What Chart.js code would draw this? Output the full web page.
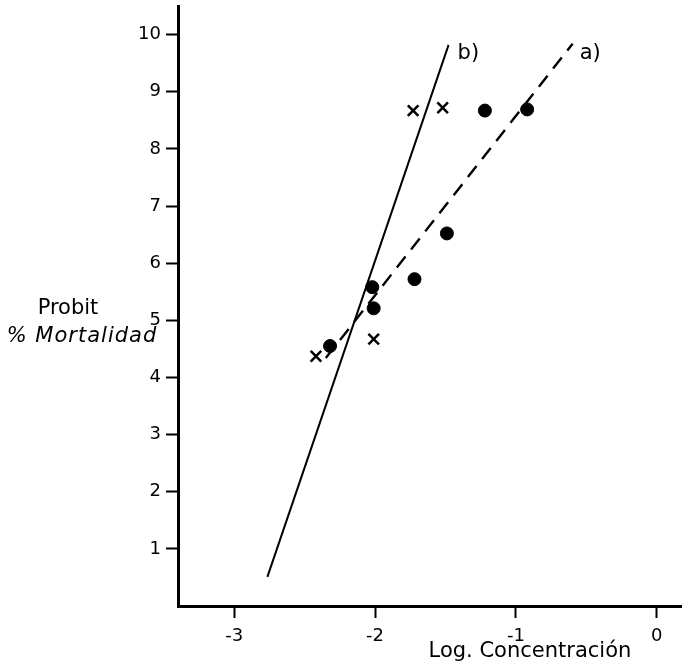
<!DOCTYPE html>
<html>
    <head>
        <meta charset="utf-8"/>
        <title>Probit vs Log. Concentración</title>
        <script src="https://cdn.jsdelivr.net/npm/chart.js@4.4.1/dist/chart.umd.min.js"></script>
        <style>
            body { margin: 0; background: #fff; }
            #wrap { width: 682px; height: 668px; }
        </style>
    </head>

    <body>
        <div id="wrap">
            <canvas id="chart"></canvas>
        </div>

        <script>
            // tick labels
            var xTicks = [-3, -2, -1, 0];
            var yTicks = [1, 2, 3, 4, 5, 6, 7, 8, 9, 10];

            // filled circles (series a)
            var circleX = [-2.32, -2.02, -2.01, -1.72, -1.49, -1.22, -0.92];
            var circleY = [4.55, 5.58, 5.21, 5.72, 6.52, 8.67, 8.69];

            // x marks (series b)
            var crossX = [-2.42, -2.01, -1.73, -1.52];
            var crossY = [4.37, 4.67, 8.67, 8.72];

            // fitted lines
            var lineAX = [-2.35, -0.597];
            var lineAY = [4.34, 9.84];
            var lineBX = [-2.765, -1.478];
            var lineBY = [0.51, 9.82];

            var toPoints = function(xs, ys) {
                var pts = [];
                for (var i = 0; i < xs.length; i++) pts.push({x: xs[i], y: ys[i]});
                return pts;
            }

            var font = '"DejaVu Sans", sans-serif';

            // axis titles and line labels, placed in data coords
            var textPlugin = {
                id: 'texts',
                afterDraw: function(chart) {
                    var c = chart.ctx;
                    var xs = chart.scales.x, ys = chart.scales.y;
                    c.save();
                    c.fillStyle = '#000';
                    c.textBaseline = 'middle';
                    c.textAlign = 'center';
                    c.font = '21px ' + font;
                    c.fillText('Probit', 68, 309);
                    c.font = 'italic 21px ' + font;
                    c.letterSpacing = '1px';
                    c.fillText('% Mortalidad', 82, 337);
                    c.letterSpacing = '0px';
                    c.font = '21px ' + font;
                    c.fillText('Log. Concentración', xs.getPixelForValue(-0.9), 652);
                    c.textAlign = 'left';
                    c.fillText('b)', xs.getPixelForValue(-1.414), ys.getPixelForValue(9.67));
                    c.fillText('a)', xs.getPixelForValue(-0.547), ys.getPixelForValue(9.67));
                    c.restore();
                }
            };

            var ctx = document.getElementById("chart");
            var myChart = new Chart(ctx, {
                type: 'scatter',
                data: {
                    datasets: [
                        {
                            label: 'b',
                            data: toPoints(lineBX, lineBY),
                            showLine: true,
                            borderColor: '#000',
                            borderWidth: 2,
                            pointRadius: 0
                        },
                        {
                            label: 'a',
                            data: toPoints(lineAX, lineAY),
                            showLine: true,
                            borderColor: '#000',
                            borderWidth: 2.4,
                            borderDash: [14, 9],
                            pointRadius: 0
                        },
                        {
                            label: 'circles',
                            data: toPoints(circleX, circleY),
                            pointStyle: 'circle',
                            pointRadius: 6.5,
                            borderWidth: 1,
                            borderColor: '#000',
                            backgroundColor: '#000'
                        },
                        {
                            label: 'crosses',
                            data: toPoints(crossX, crossY),
                            pointStyle: 'crossRot',
                            pointRadius: 7.5,
                            borderWidth: 2.5,
                            borderColor: '#000',
                            backgroundColor: '#000'
                        }
                    ]
                },
                options: {
                    responsive: true,
                    maintainAspectRatio: false,
                    animation: false,
                    layout: { autoPadding: false, padding: { top: 6, right: 0, left: 0, bottom: 0 } },
                    plugins: {
                        legend: { display: false },
                        tooltip: { enabled: false }
                    },
                    scales: {
                        x: {
                            type: 'linear',
                            min: -3.4,
                            max: 0.18,
                            afterBuildTicks: function(s) { s.ticks = xTicks.map(function(v){ return {value: v}; }); },
                            afterFit: function(s) { s.height = 62; s.paddingLeft = 0; s.paddingRight = 0; },
                            grid: { drawOnChartArea: false, drawTicks: true, tickLength: 12, tickWidth: 2, color: '#000' },
                            border: { display: true, width: 3, color: '#000' },
                            ticks: {
                                color: '#000',
                                padding: 8,
                                font: { family: font, size: 18 },
                                callback: function(v) { return '' + v; }
                            }
                        },
                        y: {
                            type: 'linear',
                            min: 0,
                            max: 10.5,
                            afterBuildTicks: function(s) { s.ticks = yTicks.map(function(v){ return {value: v}; }); },
                            afterFit: function(s) { s.width = 178; s.paddingTop = 0; s.paddingBottom = 0; },
                            grid: { drawOnChartArea: false, drawTicks: true, tickLength: 12, tickWidth: 2, color: '#000' },
                            border: { display: true, width: 3, color: '#000' },
                            ticks: {
                                color: '#000',
                                padding: 5,
                                font: { family: font, size: 18 }
                            }
                        }
                    }
                },
                plugins: [textPlugin]
            });
        </script>
    </body>
</html>
